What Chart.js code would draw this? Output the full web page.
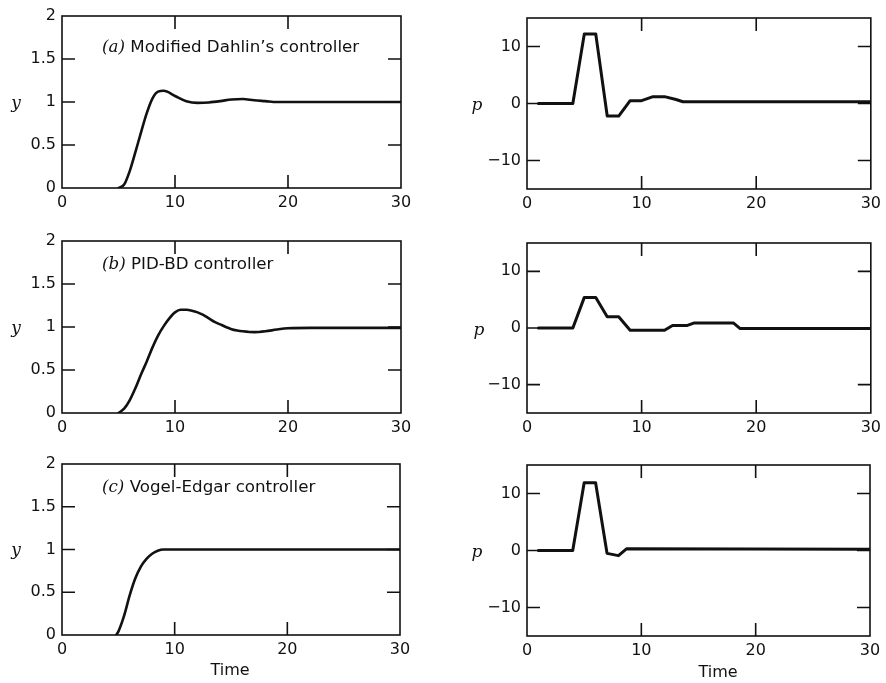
<!DOCTYPE html>
<html><head><meta charset="utf-8">
<script src="https://cdn.jsdelivr.net/npm/chart.js@4"></script>
<style>
html,body{margin:0;padding:0;background:#fff;width:886px;height:683px;overflow:hidden;}
canvas{position:absolute;left:0;top:0;}
.ttl{position:absolute;font-family:"DejaVu Sans";font-size:16.7px;color:#111;white-space:nowrap;line-height:1;transform:translateY(-50%);}
.ttl i{font-family:"DejaVu Serif","Liberation Serif";}
.var{position:absolute;font-family:"DejaVu Serif","Liberation Serif";font-style:italic;font-size:17px;color:#111;line-height:1;transform:translate(-50%,-50%);}
.time{position:absolute;font-family:"DejaVu Sans";font-size:16px;color:#111;line-height:1;transform:translate(-50%,-50%);}
</style></head><body>
<canvas id="c0" width="886" height="683"></canvas>
<canvas id="c1" width="886" height="683"></canvas>
<canvas id="c2" width="886" height="683"></canvas>
<canvas id="c3" width="886" height="683"></canvas>
<canvas id="c4" width="886" height="683"></canvas>
<canvas id="c5" width="886" height="683"></canvas>
<div class="ttl" style="left:102px;top:46px"><i>(a)</i> Modified Dahlin’s controller</div>
<div class="ttl" style="left:102px;top:263px"><i>(b)</i> PID-BD controller</div>
<div class="ttl" style="left:102px;top:486px"><i>(c)</i> Vogel-Edgar controller</div>
<div class="var" style="left:16px;top:102px">y</div>
<div class="var" style="left:16px;top:327px">y</div>
<div class="var" style="left:16px;top:549px">y</div>
<div class="var" style="left:477px;top:104px">p</div>
<div class="var" style="left:479px;top:329px">p</div>
<div class="var" style="left:477px;top:551px">p</div>
<div class="time" style="left:230px;top:670px">Time</div>
<div class="time" style="left:718px;top:672px">Time</div>
<script>
// ---- data ----
const xTicks = [0, 10, 20, 30];
const yTicks = [0, 0.5, 1, 1.5, 2];
const pTicks = [-10, 0, 10];

// (a) Modified Dahlin's controller
const tYa = [5, 5.5, 6, 6.5, 7, 7.5, 8, 8.5, 9, 10, 11, 12, 13, 14, 15, 16, 17, 18, 19, 20, 30];
const yA  = [0, 0.04, 0.2, 0.42, 0.65, 0.87, 1.04, 1.12, 1.13, 1.07, 1.01, 0.99, 0.995, 1.01, 1.03, 1.035, 1.02, 1.01, 1.0, 1.0, 1.0];
const tPa = [1, 4, 5, 6, 7, 8, 9, 10, 11, 12, 13, 13.6, 30];
const pA  = [0, 0, 12.2, 12.2, -2.2, -2.2, 0.5, 0.5, 1.2, 1.2, 0.7, 0.3, 0.3];

// (b) PID-BD controller
const tYb = [5, 5.5, 6, 6.5, 7, 7.5, 8, 8.5, 9, 9.5, 10, 10.5, 11, 11.5, 12, 12.5, 13, 13.5, 14, 14.5, 15, 15.5, 16, 17, 18, 19, 20, 22, 30];
const yB  = [0, 0.05, 0.15, 0.29, 0.45, 0.6, 0.76, 0.9, 1.01, 1.1, 1.17, 1.2, 1.2, 1.19, 1.17, 1.14, 1.1, 1.06, 1.03, 1.0, 0.975, 0.96, 0.95, 0.94, 0.95, 0.97, 0.985, 0.99, 0.99];
const tPb = [1, 4, 5, 6, 7, 8, 9, 12, 12.7, 14, 14.6, 18, 18.6, 30];
const pB  = [0, 0, 5.4, 5.4, 2.0, 2.0, -0.4, -0.4, 0.45, 0.45, 0.9, 0.9, -0.1, -0.1];

// (c) Vogel-Edgar controller
const tYc = [4.8, 5, 5.5, 6, 6.5, 7, 7.5, 8, 8.5, 9, 30];
const yC  = [0, 0.04, 0.22, 0.46, 0.66, 0.8, 0.89, 0.95, 0.985, 1.0, 1.0];
const tPc = [1, 4, 5, 6, 7, 8, 8.7, 30];
const pC  = [0, 0, 11.9, 11.9, -0.5, -0.9, 0.3, 0.2];

// ---- layout (plot rectangles in page pixels) ----
const W = 886, H = 683, YW = 60, XH = 30, TL = 13;
const panels = [
  {id:'c0', rect:[62, 16, 401, 188],  t:tYa, v:yA, ymin:0, ymax:2, ticks:yTicks, smooth:true},
  {id:'c1', rect:[527, 18, 872, 189], t:tPa, v:pA, ymin:-15, ymax:15, ticks:pTicks, smooth:false},
  {id:'c2', rect:[62, 241, 401, 413], t:tYb, v:yB, ymin:0, ymax:2, ticks:yTicks, smooth:true},
  {id:'c3', rect:[527, 243, 871, 413], t:tPb, v:pB, ymin:-15, ymax:15, ticks:pTicks, smooth:false},
  {id:'c4', rect:[62, 464, 400, 635], t:tYc, v:yC, ymin:0, ymax:2, ticks:yTicks, smooth:true},
  {id:'c5', rect:[527, 465, 870, 636], t:tPc, v:pC, ymin:-15, ymax:15, ticks:pTicks, smooth:false}
];

const frameTicks = {
  id: 'frameTicks',
  afterDatasetsDraw(chart) {
    const {ctx, chartArea: a} = chart;
    const x = chart.scales.x, y = chart.scales.y;
    ctx.save();
    ctx.strokeStyle = '#111';
    ctx.lineWidth = 1.6;
    ctx.strokeRect(a.left, a.top, a.right - a.left, a.bottom - a.top);
    ctx.beginPath();
    y.ticks.forEach(t => {
      if (t.value > y.min && t.value < y.max) {
        const py = y.getPixelForValue(t.value);
        ctx.moveTo(a.left, py); ctx.lineTo(a.left + TL, py);
        ctx.moveTo(a.right, py); ctx.lineTo(a.right - TL, py);
      }
    });
    x.ticks.forEach(t => {
      if (t.value > x.min && t.value < x.max) {
        const px = x.getPixelForValue(t.value);
        ctx.moveTo(px, a.bottom); ctx.lineTo(px, a.bottom - TL);
        ctx.moveTo(px, a.top); ctx.lineTo(px, a.top + TL);
      }
    });
    ctx.stroke();
    ctx.restore();
  }
};

const fmt = v => v < 0 ? '\u2212' + Math.abs(v) : String(v);
const tickFont = {family: 'DejaVu Sans', size: 16};

panels.forEach(p => {
  const [l, t, r, b] = p.rect;
  new Chart(document.getElementById(p.id), {
    type: 'line',
    data: {
      datasets: [{
        data: p.t.map((tt, i) => ({x: tt, y: p.v[i]})),
        borderColor: '#111',
        borderWidth: p.smooth ? 2.6 : 3,
        pointRadius: 0,
        fill: false,
        tension: 0,
        cubicInterpolationMode: p.smooth ? 'monotone' : 'default',
        borderJoinStyle: 'round',
        borderCapStyle: 'round'
      }]
    },
    options: {
      responsive: false,
      animation: false,
      events: [],
      layout: {padding: {left: l - YW, top: t, right: W - r, bottom: H - b - XH}},
      plugins: {legend: {display: false}, tooltip: {enabled: false}, title: {display: false}},
      scales: {
        x: {
          type: 'linear', min: 0, max: 30,
          afterBuildTicks: s => { s.ticks = xTicks.map(v => ({value: v})); },
          afterFit: s => { s.height = XH; },
          grid: {display: false, drawTicks: false},
          border: {display: false},
          ticks: {font: tickFont, color: '#111', padding: 5, maxRotation: 0, autoSkip: false, callback: fmt}
        },
        y: {
          type: 'linear', min: p.ymin, max: p.ymax,
          afterBuildTicks: s => { s.ticks = p.ticks.map(v => ({value: v})); },
          afterFit: s => { s.width = YW; },
          grid: {display: false, drawTicks: false},
          border: {display: false},
          ticks: {font: tickFont, color: '#111', padding: 6, autoSkip: false, callback: fmt}
        }
      }
    },
    plugins: [frameTicks]
  });
});
</script>
</body></html>
